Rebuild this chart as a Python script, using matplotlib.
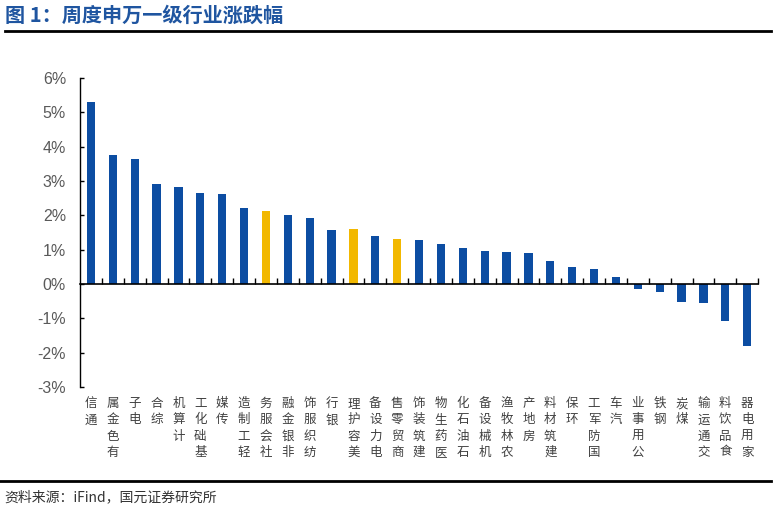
import matplotlib.pyplot as plt
from matplotlib.transforms import blended_transform_factory

plt.rcParams['font.family'] = ['Noto Sans CJK SC', 'DejaVu Sans']

# 申万一级行业周涨跌幅 (%)
industries = ['通信', '有色金属', '电子', '综合', '计算机', '基础化工', '传媒', '轻工制造',
              '社会服务', '非银金融', '纺织服饰', '银行', '美容护理', '电力设备', '商贸零售',
              '建筑装饰', '医药生物', '石油石化', '机械设备', '农林牧渔', '房地产', '建筑材料',
              '环保', '国防军工', '汽车', '公用事业', '钢铁', '煤炭', '交通运输', '食品饮料',
              '家用电器']
changes = [5.30, 3.76, 3.63, 2.91, 2.83, 2.64, 2.61, 2.22,
           2.12, 2.02, 1.92, 1.58, 1.59, 1.41, 1.31,
           1.28, 1.16, 1.05, 0.96, 0.93, 0.89, 0.67,
           0.50, 0.44, 0.20, -0.15, -0.24, -0.52, -0.56, -1.07,
           -1.81]
highlight = ['社会服务', '美容护理', '商贸零售']

blue = '#0C4DA2'
yellow = '#F2B800'
colors = [yellow if name in highlight else blue for name in industries]

fig = plt.figure(figsize=(7.76, 5.11), dpi=100)
ax = fig.add_axes([0.1031, 0.2427, 0.977 - 0.1031, 0.8474 - 0.2427])

x = list(range(len(industries)))
ax.bar(x, changes, width=0.38, color=colors, zorder=2)

ax.set_xlim(-0.5, len(industries) - 0.5)
ax.set_ylim(-3, 6)
ax.set_yticks(range(-3, 7))
ax.set_yticklabels([f'{v}%' for v in range(-3, 7)], fontsize=11.5, color='#595959',
                   family=['Liberation Sans', 'DejaVu Sans'])
ax.tick_params(axis='y', direction='in', length=3, width=1, pad=10)

# x axis on zero line, ticks between bars
ax.spines['bottom'].set_position(('data', 0))
ax.spines['top'].set_visible(False)
ax.spines['right'].set_visible(False)
ax.spines['left'].set_linewidth(1)
ax.spines['bottom'].set_linewidth(1.2)
ax.set_xticks([i + 0.5 for i in x])
ax.set_xticklabels([])
ax.tick_params(axis='x', direction='in', length=4, width=1)

# vertical category labels below the plot area
trans = blended_transform_factory(ax.transData, ax.transAxes)
for i, name in enumerate(industries):
    ax.text(i, -0.033, '\n'.join(reversed(name)), transform=trans, ha='center', va='top',
            fontsize=9, color='#404040', linespacing=1.32)

# title and rules
fig.text(0.006, 0.97, '图 1：周度申万一级行业涨跌幅', fontsize=14.5, fontweight='bold',
         color='#1F55A0', va='center', ha='left')
fig.add_artist(plt.Line2D([0.006, 0.993], [1 - 31 / 511] * 2, color='black', linewidth=2))
fig.add_artist(plt.Line2D([0.0, 0.993], [1 - 481 / 511] * 2, color='black', linewidth=2))
fig.text(0.006, 1 - 497 / 511, '资料来源：iFind，国元证券研究所', fontsize=10, color='#333333',
         va='center', ha='left')

fig.savefig('out.png', dpi=100)
